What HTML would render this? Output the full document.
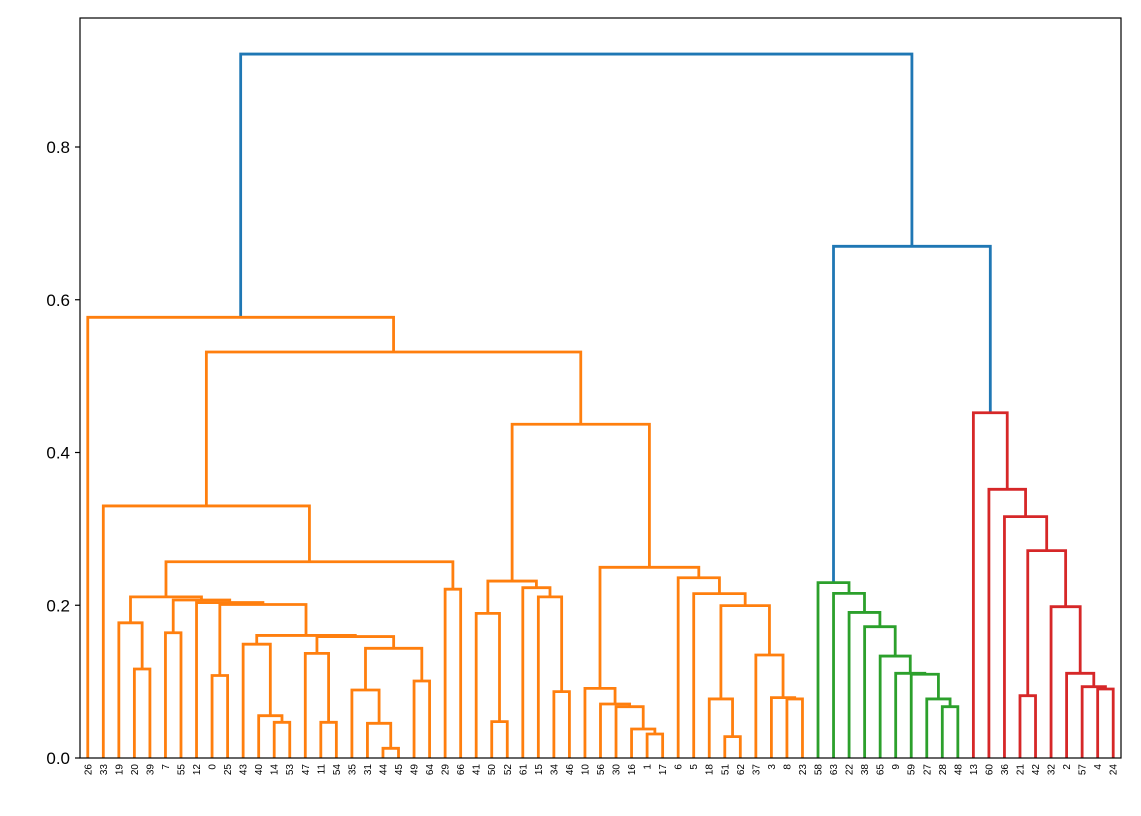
<!DOCTYPE html>
<html><head><meta charset="utf-8"><style>
html,body{margin:0;padding:0;background:#fff;}
svg{display:block;font-family:"Liberation Sans","DejaVu Sans",sans-serif;}
</style></head><body>
<svg id="s" width="1141" height="816" xmlns="http://www.w3.org/2000/svg"></svg>
<script>
const S=document.getElementById('s');
const NS='http://www.w3.org/2000/svg';
function el(t,a,txt){const e=document.createElementNS(NS,t);for(const k in a)e.setAttribute(k,a[k]);if(txt!==undefined)e.textContent=txt;S.appendChild(e);return e;}
const X=i=>80+15.537*(i+0.5);
const Y=h=>758-h*763.75;
const labels=[26,33,19,20,39,7,55,12,0,25,43,40,14,53,47,11,54,35,31,44,45,49,64,29,66,41,50,52,61,15,34,46,10,56,30,16,1,17,6,5,18,51,62,37,3,8,23,58,63,22,38,65,9,59,27,28,48,13,60,36,21,42,32,2,57,4,24];
function N(a,b,h){return {a,b,h};}
const P=N(2,N(3,4,0.1165),0.177);
const V=N(10,N(11,N(12,13,0.0467),0.0554),0.149);
const AA=N(14,N(15,16,0.0467),0.137);
const BB=N(N(17,N(18,N(19,20,0.0127),0.0454),0.089),N(21,22,0.1008),0.1436);
const U=N(V,N(AA,BB,0.159),0.1605);
const T=N(N(8,9,0.108),U,0.201);
const R=N(7,T,0.2035);
const Q=N(N(5,6,0.164),R,0.2069);
const G=N(P,Q,0.211);
const F=N(G,N(23,24,0.221),0.257);
const D=N(1,F,0.33);
const I=N(N(25,N(26,27,0.0476),0.1894),N(28,N(29,N(30,31,0.0869),0.211),0.223),0.2317);
const O=N(32,N(33,N(34,N(35,N(36,37,0.0314),0.038),0.0672),0.0707),0.0912);
const W2=N(N(40,N(41,42,0.028),0.0773),N(43,N(44,N(45,46,0.0773),0.079),0.1349),0.1995);
const Q2=N(38,N(39,W2,0.2152),0.236);
const J=N(O,Q2,0.2497);
const E=N(I,J,0.437);
const C=N(D,E,0.5316);
const A=N(0,C,0.577);
const g=N(47,N(48,N(49,N(50,N(51,N(52,N(53,N(54,N(55,56,0.0672),0.0773),0.1097),0.1109),0.1335),0.1719),0.1906),0.2155),0.2296);
const r=N(57,N(58,N(59,N(N(60,61,0.0816),N(62,N(63,N(64,N(65,66,0.0903),0.0934),0.1109),0.1981),0.2715),0.316),0.3518),0.452);
const B=N(g,r,0.67);
const root=N(A,B,0.9217);
function pos(n){if(typeof n==='number')return [X(n),0];const l=pos(n.a),rr=pos(n.b);return [(l[0]+rr[0])/2,n.h];}
let out='';
function draw(n,c){
  if(typeof n==='number')return;
  const l=pos(n.a),rr=pos(n.b);
  out+=`<path d="M${l[0].toFixed(2)},${Y(l[1]).toFixed(2)}V${Y(n.h).toFixed(2)}H${rr[0].toFixed(2)}V${Y(rr[1]).toFixed(2)}" stroke="${c}"/>`;
}
function rec(n,col){if(typeof n==='number')return;draw(n,col);rec(n.a,col);rec(n.b,col);}
draw(root,'#1f77b4');draw(B,'#1f77b4');
rec(A,'#ff7f0e');rec(g,'#2ca02c');rec(r,'#d62728');
const grp=el('g',{fill:'none','stroke-width':'2.8','stroke-linecap':'butt','stroke-linejoin':'miter'});
grp.innerHTML=out;
el('rect',{x:80,y:18,width:1041,height:740,fill:'none',stroke:'#000','stroke-width':'1.2'});
[[0,'0.0'],[0.2,'0.2'],[0.4,'0.4'],[0.6,'0.6'],[0.8,'0.8']].forEach(([v,t])=>{
  const y=Y(v);
  el('line',{x1:75,x2:80,y1:y,y2:y,stroke:'#000','stroke-width':'1.2'});
  el('text',{x:70,y:y+6,'text-anchor':'end','font-size':'17',fill:'#000'},t);
});
labels.forEach((lb,i)=>{
  const x=X(i);
  el('text',{x:x+3.5,y:764,'text-anchor':'end','font-size':'10',fill:'#000',transform:`rotate(-90 ${x+3.5} 764)`},String(lb));
});
</script>
</body></html>
